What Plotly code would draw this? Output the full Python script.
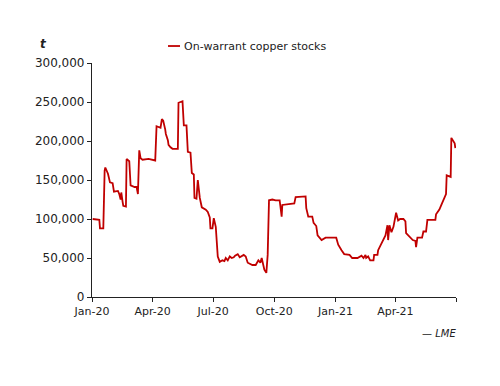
import plotly.graph_objects as go

dates = [
    "2020-01-02", "2020-01-12", "2020-01-13", "2020-01-18", "2020-01-20", "2020-01-21",
    "2020-01-25", "2020-01-26", "2020-01-28", "2020-02-01", "2020-02-03", "2020-02-09",
    "2020-02-11", "2020-02-13", "2020-02-14", "2020-02-16", "2020-02-17", "2020-02-21",
    "2020-02-22", "2020-02-26", "2020-02-28", "2020-03-05", "2020-03-08", "2020-03-10",
    "2020-03-12", "2020-03-14", "2020-03-17", "2020-03-26", "2020-04-05", "2020-04-07",
    "2020-04-13", "2020-04-15", "2020-04-17", "2020-04-20", "2020-04-21", "2020-04-24",
    "2020-04-25", "2020-04-28", "2020-05-01", "2020-05-09", "2020-05-10", "2020-05-16",
    "2020-05-18", "2020-05-22", "2020-05-24", "2020-05-28", "2020-05-30", "2020-06-02",
    "2020-06-03", "2020-06-06", "2020-06-08", "2020-06-11", "2020-06-14", "2020-06-20",
    "2020-06-23", "2020-06-26", "2020-06-27", "2020-06-30", "2020-07-02", "2020-07-05",
    "2020-07-06", "2020-07-08", "2020-07-11", "2020-07-15", "2020-07-18", "2020-07-20",
    "2020-07-23", "2020-07-26", "2020-07-29", "2020-08-01", "2020-08-03", "2020-08-07",
    "2020-08-10", "2020-08-13", "2020-08-16", "2020-08-19", "2020-08-22", "2020-08-29",
    "2020-09-03", "2020-09-07", "2020-09-10", "2020-09-12", "2020-09-14", "2020-09-16",
    "2020-09-19", "2020-09-21", "2020-09-23", "2020-09-28", "2020-10-03", "2020-10-09",
    "2020-10-10", "2020-10-12", "2020-10-13", "2020-10-22", "2020-10-31", "2020-11-02",
    "2020-11-17", "2020-11-18", "2020-11-21", "2020-11-27", "2020-11-29", "2020-12-03",
    "2020-12-05", "2020-12-11", "2020-12-14", "2020-12-17", "2021-01-02", "2021-01-05",
    "2021-01-10", "2021-01-14", "2021-01-22", "2021-01-26", "2021-02-03", "2021-02-09",
    "2021-02-12", "2021-02-15", "2021-02-16", "2021-02-19", "2021-02-22", "2021-02-27",
    "2021-02-28", "2021-03-05", "2021-03-06", "2021-03-11", "2021-03-14", "2021-03-17",
    "2021-03-20", "2021-03-21", "2021-03-23", "2021-03-26", "2021-03-29", "2021-03-30",
    "2021-04-02", "2021-04-05", "2021-04-08", "2021-04-13", "2021-04-16", "2021-04-17",
    "2021-04-22", "2021-04-27", "2021-05-01", "2021-05-02", "2021-05-04", "2021-05-11",
    "2021-05-13", "2021-05-17", "2021-05-19", "2021-05-31", "2021-06-01", "2021-06-06",
    "2021-06-09", "2021-06-12", "2021-06-16", "2021-06-17", "2021-06-23", "2021-06-24",
    "2021-06-27", "2021-06-29", "2021-06-30",
]

stocks = [
    100000, 99000, 88000, 88000, 162000, 166000,
    158000, 155000, 147000, 146000, 135000, 136000,
    132000, 125000, 134000, 122000, 117000, 116000,
    177000, 174000, 143000, 141000, 141000, 132000,
    188000, 178000, 176000, 177000, 175000, 219000,
    217000, 228000, 226000, 215000, 209000, 201000,
    195000, 192000, 190000, 190000, 249000, 251000,
    220000, 220000, 186000, 185000, 159000, 157000,
    127000, 126000, 150000, 127000, 115000, 112000,
    109000, 102000, 88000, 88000, 101000, 90000,
    70000, 52000, 45000, 47000, 46000, 50000,
    47000, 52000, 50000, 51000, 53000, 55000,
    51000, 53000, 54000, 52000, 44000, 41000,
    41000, 47000, 44000, 50000, 42000, 35000,
    31000, 54000, 124000, 125000, 124000, 124000,
    117000, 103000, 118000, 119000, 120000, 128000,
    129000, 114000, 103000, 103000, 95000, 91000,
    79000, 73000, 75000, 76000, 76000, 67000,
    60000, 55000, 54000, 50000, 50000, 53000,
    50000, 54000, 50000, 52000, 47000, 47000,
    54000, 54000, 60000, 68000, 73000, 79000,
    92000, 73000, 92000, 83000, 90000, 96000,
    108000, 98000, 100000, 100000, 97000, 82000,
    77000, 73000, 72000, 64000, 76000, 76000,
    84000, 84000, 99000, 99000, 106000, 112000,
    118000, 124000, 132000, 156000, 154000, 204000,
    200000, 197000, 191000,
]

x_tick_vals = ["2020-01-01", "2020-04-01", "2020-07-01", "2020-10-01",
               "2021-01-01", "2021-04-01", "2021-07-01"]
x_tick_text = ["Jan-20", "Apr-20", "Jul-20", "Oct-20", "Jan-21", "Apr-21", ""]
y_tick_vals = [0, 50000, 100000, 150000, 200000, 250000, 300000]

series_name = "On-warrant copper stocks"
line_color = "#C00000"
font_family = "DejaVu Sans"

fig = go.Figure()
fig.add_trace(go.Scatter(
    x=dates, y=stocks, mode="lines", name=series_name,
    line=dict(color=line_color, width=1.8), showlegend=False,
))

fig.update_layout(
    width=500, height=386,
    margin=dict(l=84, r=52, t=55, b=97, autoexpand=False),
    paper_bgcolor="white", plot_bgcolor="white",
    font=dict(family=font_family, size=11, color="#222222"),
    xaxis=dict(
        range=["2020-01-01", "2021-07-01"],
        tickmode="array", tickvals=x_tick_vals, ticktext=x_tick_text,
        showgrid=False, zeroline=False,
        showline=True, linecolor="#222222", linewidth=1.2,
        ticks="outside", ticklen=4, tickcolor="#222222",
        tickfont=dict(size=11),
    ),
    yaxis=dict(
        range=[0, 300000],
        tickmode="array", tickvals=y_tick_vals, tickformat=",d",
        showgrid=False, zeroline=False,
        showline=True, linecolor="#222222", linewidth=1.2,
        ticks="outside", ticklen=4, tickcolor="#222222",
        tickfont=dict(size=12),
    ),
    annotations=[
        dict(text="<i><b>t</b></i>", xref="paper", yref="paper", x=-0.132, y=1.081,
             xanchor="center", yanchor="middle", showarrow=False,
             font=dict(size=12, color="#222222")),
        dict(text=series_name, xref="paper", yref="paper", x=0.2473, y=1.0726,
             xanchor="left", yanchor="middle", showarrow=False,
             font=dict(size=11, color="#222222")),
        dict(text="<i>— LME</i>", xref="paper", yref="paper", x=1.0055, y=-0.158,
             xanchor="right", yanchor="middle", showarrow=False,
             font=dict(size=10, color="#222222")),
    ],
    shapes=[
        dict(type="line", xref="paper", yref="paper", x0=0.2088, x1=0.2418,
             y0=1.0726, y1=1.0726, line=dict(color=line_color, width=1.8)),
    ],
)

fig.write_html("out.html")
